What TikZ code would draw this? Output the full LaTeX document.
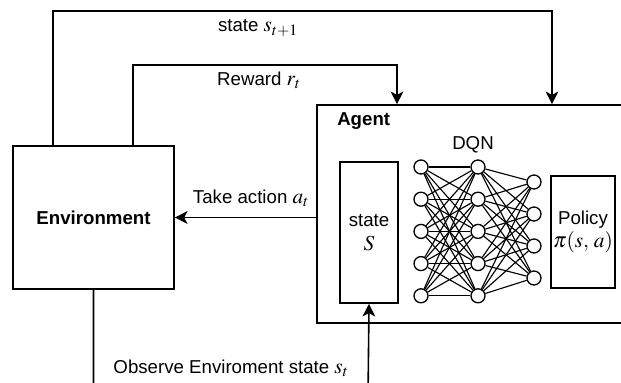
\documentclass[tikz,border=0pt]{standalone}
\usepackage{mathptmx}
\usepackage[no-math]{fontspec}
\setmainfont{Liberation Sans}
\usetikzlibrary{arrows.meta}
\newcommand{\bigmath}[1]{{\fontsize{16}{18}\selectfont$#1$}}
\begin{document}
\begin{tikzpicture}[x=0.75pt,y=-0.75pt,
  every node/.style={font=\fontsize{14}{16.5}\selectfont},
  arr/.style={line width=1.2pt,-{Stealth[length=9.5pt,width=9.5pt,inset=2.5pt]}},
  box/.style={draw,line width=1.2pt,inner sep=0pt,align=center},
  neuron/.style={draw,circle,line width=1pt,minimum size=10.5pt,inner sep=0pt,fill=white},
  link/.style={line width=0.85pt},
  lbl/.style={inner sep=0pt}]
\clip (0,0) rectangle (621,382);

% main blocks
\node[box,minimum width=120.75pt,minimum height=107.25pt] (env) at (93.5,217.5) {\textbf{Environment}};
\node[box,minimum width=257.25pt,minimum height=163.5pt] (agent) at (488.5,214) {};
\node[lbl,anchor=west] (agentlbl) at (337,121) {\textbf{Agent}};
\node[box,minimum width=43.5pt,minimum height=105.75pt] (sbox) at (369,232.5)
  {state\\[1pt]\bigmath{S}};
\node[box,minimum width=48pt,minimum height=84pt] (policy) at (583,232)
  {Policy\\[1pt]\bigmath{\pi(s,\,a)}};
\node[lbl] (dqn) at (473,145) {DQN};

% network layers
\foreach \i in {0,...,4} \node[neuron] (a\i) at (421,{167+32.2*\i}) {};
\foreach \i in {0,...,4} \node[neuron] (b\i) at (478,{167+32.2*\i}) {};
\foreach \i in {0,...,3} \node[neuron] (c\i) at (534,{182+32*\i}) {};
\foreach \i in {0,...,4}
  \foreach \j in {0,...,4}
    \draw[link] (a\i) -- (b\j);
\foreach \i in {0,...,4}
  \foreach \j in {0,...,3}
    \draw[link] (b\i) -- (c\j);

% feedback loops
\coordinate (stTop) at (552,11);
\coordinate (rwTop) at (397,65);
\coordinate (obsLow) at (368,400);
\draw[arr] ([xshift=30.75pt]env.north west) |- (stTop) -- (stTop |- agent.north);
\draw[arr] ([xshift=90.75pt]env.north west) |- (rwTop) -- (rwTop |- agent.north);
\draw[arr] (agent.west |- env.east) -- (env.east);
\draw[arr] (env.south) |- (obsLow) -- (sbox.south);

% connector labels
\node[lbl] (lnext) at (258,28) {state \bigmath{s_{t+1}}};
\node[lbl] (lrew) at (259,80) {Reward \bigmath{r_t}};
\node[lbl] (lact) at (251,198) {Take action \bigmath{a_t}};
\node[lbl] (lobs) at (231,368) {Observe Enviroment state \bigmath{s_t}};
\end{tikzpicture}
\end{document}
